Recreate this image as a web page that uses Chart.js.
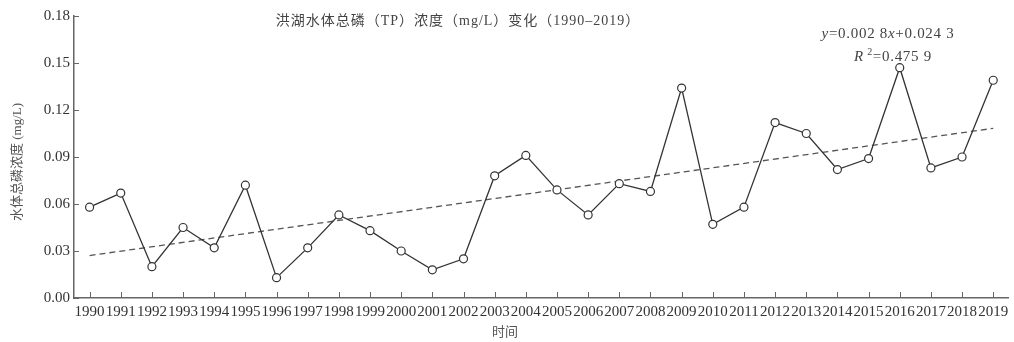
<!DOCTYPE html>
<html>
<head>
<meta charset="utf-8">
<script src="https://cdn.jsdelivr.net/npm/chart.js@4/dist/chart.umd.min.js"></script>
<style>
    html, body { margin: 0; padding: 0; background: #fff; }
    canvas { display: block; }
</style>
</head>
<body>
<canvas id="myChart" width="1014" height="342"></canvas>
<script>
// data
const years = ["1990", "1991", "1992", "1993", "1994", "1995", "1996", "1997", "1998", "1999",
    "2000", "2001", "2002", "2003", "2004", "2005", "2006", "2007", "2008", "2009",
    "2010", "2011", "2012", "2013", "2014", "2015", "2016", "2017", "2018", "2019"];
const tpValues = [0.058, 0.067, 0.020, 0.045, 0.032, 0.072, 0.013, 0.032, 0.053, 0.043,
    0.030, 0.018, 0.025, 0.078, 0.091, 0.069, 0.053, 0.073, 0.068, 0.134,
    0.047, 0.058, 0.112, 0.105, 0.082, 0.089, 0.147, 0.083, 0.090, 0.139];
// fitted line, only the two ends as drawn
const trendValues = [0.0271, null, null, null, null, null, null, null, null, null,
    null, null, null, null, null, null, null, null, null, null,
    null, null, null, null, null, null, null, null, null, 0.1083];
const yTicks = [0, 0.03, 0.06, 0.09, 0.12, 0.15, 0.18];

const titleText = "洪湖水体总磷（TP）浓度（mg/L）变化（1990–2019）";
const xTitle = "时间";
const yTitle = "水体总磷浓度 (mg/L)";
const cjkFont = "'Liberation Serif', 'Noto Sans CJK SC', serif";
const latinFont = "'Liberation Serif', serif";

// inward tick marks, titles and the fit equation
const extras = {
    id: "extras",
    afterDraw(chart) {
        const { ctx, chartArea, scales } = chart;
        ctx.save();
        ctx.strokeStyle = "#666";
        ctx.lineWidth = 1;
        ctx.beginPath();
        scales.x.ticks.forEach((t, i) => {
            const px = Math.round(scales.x.getPixelForTick(i)) + 0.5;
            ctx.moveTo(px, chartArea.bottom);
            ctx.lineTo(px, chartArea.bottom - 6);
        });
        scales.y.ticks.forEach((t, i) => {
            const py = Math.round(scales.y.getPixelForTick(i)) + 0.5;
            ctx.moveTo(chartArea.left, py);
            ctx.lineTo(chartArea.left + 5, py);
        });
        ctx.stroke();

        ctx.fillStyle = "#444";
        ctx.textAlign = "center";
        ctx.textBaseline = "middle";
        ctx.font = "14px " + cjkFont;
        ctx.letterSpacing = "1px";
        ctx.fillText(titleText, 458, 21);

        ctx.letterSpacing = "0px";
        ctx.fillStyle = "#555";
        ctx.font = "13px " + cjkFont;
        ctx.fillText(xTitle, 505, 333);

        ctx.save();
        ctx.translate(18, 162);
        ctx.rotate(-Math.PI / 2);
        ctx.fillText(yTitle, 0, 0);
        ctx.restore();

        // equation: [text, italic, size, raise]
        ctx.fillStyle = "#444";
        ctx.letterSpacing = "0.7px";
        const eq = [["y", true, 15, 0], ["=0.002 8", false, 15, 0], ["x", true, 15, 0], ["+0.024 3", false, 15, 0]];
        const r2 = [["R", true, 15, 0], [" 2", false, 10, 5], ["=0.475 9", false, 15, 0]];
        const setFont = p => { ctx.font = (p[1] ? "italic " : "") + p[2] + "px " + latinFont; };
        const drawParts = (parts, cx, cy) => {
            let w = 0;
            parts.forEach(p => { setFont(p); w += ctx.measureText(p[0]).width; });
            let x = cx - w / 2;
            ctx.textAlign = "left";
            parts.forEach(p => {
                setFont(p);
                ctx.fillText(p[0], x, cy - p[3]);
                x += ctx.measureText(p[0]).width;
            });
        };
        drawParts(eq, 888, 34);
        drawParts(r2, 893, 57);
        ctx.restore();
    }
};

const data = {
    labels: years,
    datasets: [
        {
            label: "TP",
            data: tpValues,
            borderColor: "#333",
            borderWidth: 1.3,
            pointStyle: "circle",
            pointRadius: 4,
            pointBackgroundColor: "#fff",
            pointBorderColor: "#333",
            pointBorderWidth: 1.2,
            tension: 0
        },
        {
            label: "trend",
            data: trendValues,
            borderColor: "#555",
            borderWidth: 1.3,
            borderDash: [6, 4],
            pointRadius: 0,
            spanGaps: true
        }
    ]
};

const config = {
    type: "line",
    data,
    options: {
        responsive: false,
        animation: false,
        devicePixelRatio: 1,
        layout: { padding: { top: 16, right: 5, left: 0, bottom: 0 } },
        plugins: {
            legend: { display: false },
            tooltip: { enabled: false }
        },
        scales: {
            x: {
                offset: true,
                grid: { display: true, drawOnChartArea: false, drawTicks: false },
                border: { display: true, color: "#666", width: 1.5 },
                ticks: {
                    color: "#333",
                    padding: 5,
                    maxRotation: 0,
                    autoSkip: false,
                    font: { family: latinFont, size: 15 }
                },
                afterFit(scale) { scale.height = 44; }
            },
            y: {
                min: 0,
                max: 0.18,
                afterBuildTicks(scale) {
                    scale.ticks = yTicks.map(v => ({ value: v }));
                },
                grid: { display: true, drawOnChartArea: false, drawTicks: false },
                border: { display: true, color: "#666", width: 1.5 },
                ticks: {
                    color: "#333",
                    padding: 4,
                    autoSkip: false,
                    font: { family: latinFont, size: 15 },
                    callback: v => v.toFixed(2)
                },
                afterFit(scale) { scale.width = 74; }
            }
        }
    },
    plugins: [extras]
};

window.myChart = new Chart(document.getElementById("myChart"), config);
</script>
</body>
</html>
